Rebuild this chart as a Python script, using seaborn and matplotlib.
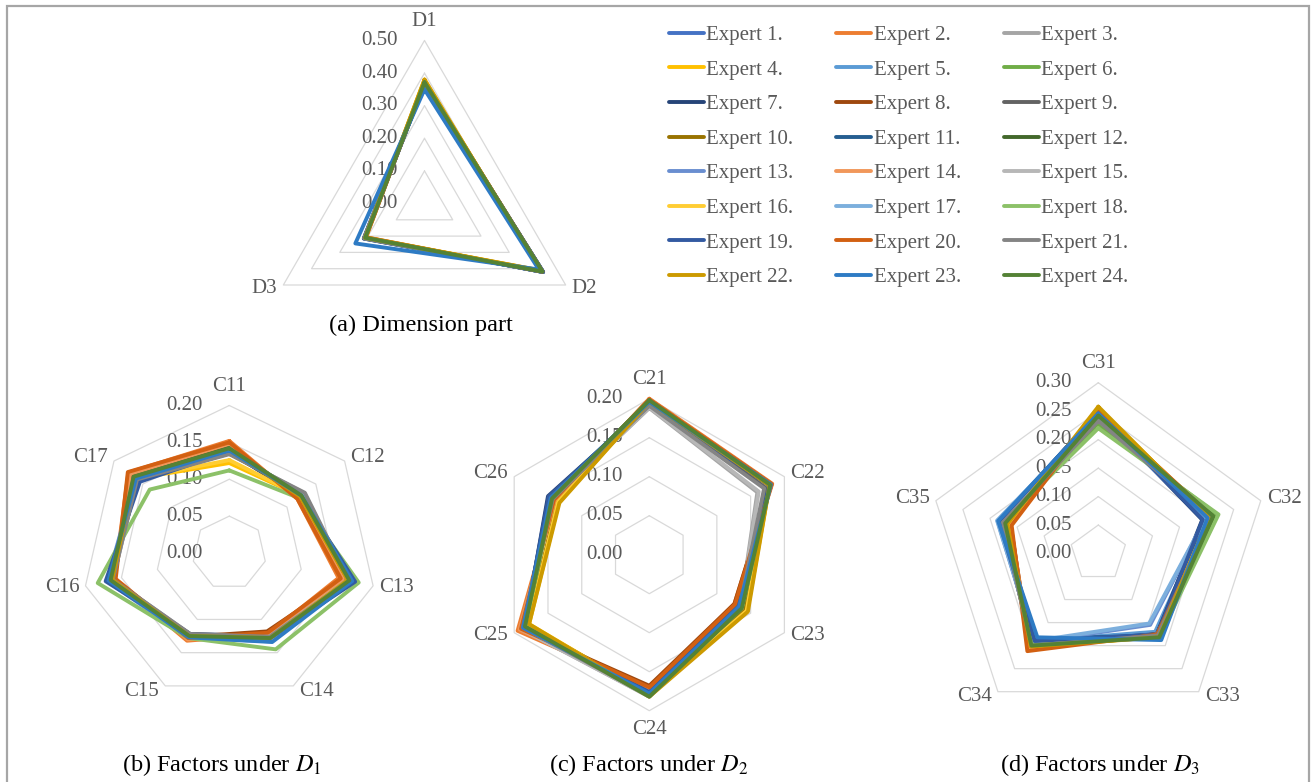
import numpy as np
import pandas as pd
import seaborn as sns
import matplotlib
matplotlib.use('Agg')
import matplotlib.pyplot as plt
from matplotlib.lines import Line2D
from matplotlib.patches import Rectangle

sns.set_theme(style="white")
plt.rcParams['font.family'] = ['Liberation Serif', 'DejaVu Sans']
plt.rcParams['mathtext.fontset'] = 'stix'

experts = ["Expert %d." % i for i in range(1, 25)]
colors = ["#4472C4", "#ED7D31", "#A5A5A5", "#FFC000", "#5B9BD5", "#70AD47",
          "#264478", "#9E480E", "#636363", "#997300", "#255E91", "#43682B",
          "#698ED0", "#F1975A", "#B7B7B7", "#FFCD33", "#7CAFDD", "#8CC168",
          "#335AA1", "#D26012", "#848484", "#CC9A00", "#2E7BC4", "#548235"]

# (a) dimension weights, one row per expert: D1, D2, D3
dim_cats = ["D1", "D2", "D3"]
dim_vals = [
    [0.370, 0.415, 0.215], [0.375, 0.418, 0.207], [0.370, 0.420, 0.210], [0.380, 0.412, 0.208],
    [0.370, 0.420, 0.210], [0.375, 0.415, 0.210], [0.365, 0.420, 0.215], [0.370, 0.418, 0.212],
    [0.372, 0.416, 0.212], [0.375, 0.414, 0.211], [0.368, 0.420, 0.212], [0.370, 0.418, 0.212],
    [0.372, 0.416, 0.212], [0.375, 0.415, 0.210], [0.370, 0.418, 0.212], [0.378, 0.412, 0.210],
    [0.370, 0.420, 0.210], [0.372, 0.416, 0.212], [0.368, 0.420, 0.212], [0.374, 0.418, 0.208],
    [0.370, 0.416, 0.214], [0.380, 0.410, 0.210], [0.350, 0.405, 0.245], [0.372, 0.418, 0.210],
]

# (b) factors under D1: C11..C17
d1_cats = ["C11", "C12", "C13", "C14", "C15", "C16", "C17"]
d1_vals = [
    [0.140, 0.125, 0.168, 0.128, 0.125, 0.165, 0.160],
    [0.152, 0.118, 0.152, 0.122, 0.132, 0.160, 0.175],
    [0.135, 0.130, 0.165, 0.125, 0.122, 0.162, 0.160],
    [0.122, 0.124, 0.168, 0.130, 0.124, 0.166, 0.162],
    [0.140, 0.126, 0.170, 0.132, 0.126, 0.168, 0.163],
    [0.142, 0.124, 0.166, 0.128, 0.124, 0.165, 0.165],
    [0.138, 0.122, 0.174, 0.125, 0.122, 0.168, 0.158],
    [0.145, 0.120, 0.160, 0.118, 0.126, 0.160, 0.170],
    [0.135, 0.128, 0.166, 0.126, 0.123, 0.163, 0.160],
    [0.142, 0.124, 0.165, 0.127, 0.124, 0.164, 0.165],
    [0.140, 0.125, 0.172, 0.130, 0.126, 0.168, 0.160],
    [0.143, 0.124, 0.166, 0.126, 0.124, 0.164, 0.166],
    [0.138, 0.127, 0.168, 0.133, 0.128, 0.170, 0.162],
    [0.148, 0.120, 0.158, 0.124, 0.130, 0.160, 0.172],
    [0.136, 0.129, 0.165, 0.126, 0.123, 0.162, 0.160],
    [0.126, 0.124, 0.168, 0.130, 0.125, 0.166, 0.162],
    [0.140, 0.126, 0.169, 0.132, 0.127, 0.167, 0.163],
    [0.112, 0.120, 0.180, 0.145, 0.128, 0.183, 0.138],
    [0.138, 0.124, 0.175, 0.128, 0.123, 0.172, 0.155],
    [0.150, 0.118, 0.155, 0.120, 0.128, 0.158, 0.176],
    [0.134, 0.131, 0.166, 0.126, 0.122, 0.162, 0.160],
    [0.140, 0.123, 0.165, 0.128, 0.125, 0.163, 0.165],
    [0.139, 0.125, 0.171, 0.134, 0.127, 0.168, 0.162],
    [0.142, 0.125, 0.167, 0.128, 0.125, 0.165, 0.166],
]

# (c) factors under D2: C21..C26
d2_cats = ["C21", "C22", "C23", "C24", "C25", "C26"]
d2_vals = [
    [0.196, 0.180, 0.132, 0.178, 0.186, 0.145],
    [0.200, 0.182, 0.126, 0.172, 0.195, 0.140],
    [0.188, 0.160, 0.135, 0.182, 0.190, 0.142],
    [0.196, 0.178, 0.145, 0.180, 0.178, 0.134],
    [0.197, 0.180, 0.134, 0.178, 0.185, 0.144],
    [0.198, 0.179, 0.136, 0.180, 0.184, 0.144],
    [0.192, 0.178, 0.130, 0.176, 0.184, 0.150],
    [0.198, 0.181, 0.126, 0.168, 0.190, 0.142],
    [0.192, 0.172, 0.134, 0.180, 0.186, 0.143],
    [0.196, 0.178, 0.142, 0.178, 0.180, 0.136],
    [0.195, 0.180, 0.132, 0.178, 0.186, 0.148],
    [0.198, 0.179, 0.136, 0.180, 0.184, 0.144],
    [0.194, 0.179, 0.133, 0.178, 0.186, 0.147],
    [0.199, 0.181, 0.128, 0.174, 0.192, 0.140],
    [0.189, 0.162, 0.135, 0.182, 0.190, 0.142],
    [0.196, 0.178, 0.144, 0.180, 0.179, 0.135],
    [0.197, 0.180, 0.134, 0.178, 0.186, 0.144],
    [0.198, 0.179, 0.137, 0.180, 0.184, 0.143],
    [0.192, 0.178, 0.130, 0.176, 0.185, 0.149],
    [0.199, 0.181, 0.127, 0.170, 0.190, 0.141],
    [0.191, 0.170, 0.134, 0.181, 0.187, 0.143],
    [0.196, 0.178, 0.146, 0.182, 0.178, 0.133],
    [0.196, 0.180, 0.133, 0.178, 0.187, 0.146],
    [0.198, 0.179, 0.137, 0.182, 0.184, 0.144],
]

# (d) factors under D3: C31..C35
d3_cats = ["C31", "C32", "C33", "C34", "C35"]
d3_vals = [
    [0.245, 0.205, 0.175, 0.195, 0.180],
    [0.250, 0.210, 0.178, 0.205, 0.162],
    [0.235, 0.208, 0.176, 0.198, 0.178],
    [0.255, 0.205, 0.182, 0.200, 0.168],
    [0.245, 0.200, 0.170, 0.190, 0.185],
    [0.225, 0.220, 0.180, 0.198, 0.176],
    [0.248, 0.192, 0.175, 0.195, 0.182],
    [0.250, 0.208, 0.175, 0.205, 0.162],
    [0.235, 0.206, 0.178, 0.200, 0.176],
    [0.255, 0.204, 0.180, 0.200, 0.168],
    [0.248, 0.194, 0.178, 0.185, 0.183],
    [0.240, 0.212, 0.180, 0.198, 0.172],
    [0.240, 0.198, 0.155, 0.192, 0.186],
    [0.250, 0.210, 0.176, 0.205, 0.163],
    [0.236, 0.207, 0.176, 0.198, 0.178],
    [0.256, 0.205, 0.182, 0.200, 0.168],
    [0.242, 0.198, 0.152, 0.190, 0.187],
    [0.220, 0.222, 0.182, 0.198, 0.176],
    [0.248, 0.193, 0.176, 0.190, 0.183],
    [0.250, 0.210, 0.176, 0.212, 0.160],
    [0.233, 0.208, 0.178, 0.200, 0.176],
    [0.258, 0.204, 0.182, 0.202, 0.168],
    [0.246, 0.202, 0.188, 0.182, 0.185],
    [0.242, 0.212, 0.182, 0.200, 0.172],
]

GRID = "#D9D9D9"
LABEL = "#595959"
PX = 0.72  # points per pixel at dpi 100
FS = 15

fig = plt.figure(figsize=(13.11, 7.82), dpi=100)


def radar(rect, cats, rows, rmax, step):
    ax = fig.add_axes(rect, projection='polar')
    ax.set_theta_zero_location('N')
    ax.set_theta_direction(-1)
    n = len(cats)
    theta = np.linspace(0, 2 * np.pi, n, endpoint=False)
    theta_c = np.append(theta, 2 * np.pi)

    # polygon grid rings
    levels = np.arange(step, rmax + 1e-9, step)
    for v in levels:
        ax.plot(theta_c, [v] * (n + 1), color=GRID, lw=0.9, zorder=1)

    # long table for seaborn
    recs = []
    for name, vals in zip(experts, rows):
        for t, v in zip(theta_c, list(vals) + [vals[0]]):
            recs.append((name, t, v))
    df = pd.DataFrame(recs, columns=["expert", "theta", "value"])
    sns.lineplot(data=df, x="theta", y="value", hue="expert", hue_order=experts,
                 palette=colors, sort=False, estimator=None, legend=False,
                 lw=2.8, ax=ax, zorder=3)
    for ln in ax.lines:
        ln.set_clip_on(False)

    ax.set_ylim(0, rmax)
    ax.grid(False)
    ax.set_xticks([])
    ax.set_yticks([])
    ax.set_xlabel("")
    ax.set_ylabel("")
    ax.spines['polar'].set_visible(False)
    ax.set_facecolor('none')

    # value labels along the top spoke
    for v in np.append(0.0, levels):
        ax.annotate("%.2f" % v, xy=(0, v), xytext=(-27 * PX, 0), textcoords='offset points',
                    ha='right', va='center', fontsize=FS, color=LABEL, zorder=2,
                    annotation_clip=False)

    # category labels
    for t, c in zip(theta, cats):
        s, co = np.sin(t), np.cos(t)
        if abs(s) < 0.2:
            off, ha = (0, co * 19 * PX), 'center'
        else:
            off = (np.sign(s) * 6 * PX, co * 6 * PX)
            ha = 'left' if s > 0 else 'right'
        ax.annotate(c, xy=(t, rmax), xytext=off, textcoords='offset points',
                    ha=ha, va='center', fontsize=FS, color=LABEL,
                    annotation_clip=False)
    return ax


W, H = 1311, 782


def rect(cx, cy, r):
    return [(cx - r) / W, 1 - (cy + r) / H, 2 * r / W, 2 * r / H]


radar(rect(424.5, 203.5, 163), dim_cats, dim_vals, 0.5, 0.1)
radar(rect(229.3, 553, 147.5), d1_cats, d1_vals, 0.2, 0.05)
radar(rect(649.3, 554.7, 156), d2_cats, d2_vals, 0.2, 0.05)
radar(rect(1098.3, 553.5, 170.8), d3_cats, d3_vals, 0.3, 0.05)

# legend: rows read Expert 1, 2, 3 ...
order = [i for col in range(3) for i in range(col, 24, 3)]
handles = [Line2D([], [], color=colors[i], lw=2.8) for i in order]
labels = [experts[i] for i in order]
fig.legend(handles, labels, ncol=3, loc='upper left', bbox_to_anchor=(669 / W, 1 - 25.5 / H),
           frameon=False, handlelength=1.68, handletextpad=0.12, columnspacing=2.05,
           labelspacing=0.72, borderpad=0, borderaxespad=0,
           prop={'family': 'Liberation Serif', 'size': FS}, labelcolor=LABEL)

# captions
CAP = 17.5
fig.text(421 / W, 1 - 325 / H, "(a) Dimension part", ha='center', va='center', fontsize=CAP, color='black')
fig.text(222 / W, 1 - 765 / H, r"(b) Factors under $D_1$", ha='center', va='center', fontsize=CAP, color='black')
fig.text(649 / W, 1 - 765 / H, r"(c) Factors under $D_2$", ha='center', va='center', fontsize=CAP, color='black')
fig.text(1100 / W, 1 - 765 / H, r"(d) Factors under $D_3$", ha='center', va='center', fontsize=CAP, color='black')

# outer frame
fig.add_artist(Rectangle((7 / W, -0.05), (1309 - 7) / W, 1.05 - 6 / H, transform=fig.transFigure,
                         fill=False, ec="#A6A6A6", lw=1.6))

fig.savefig("out.png", dpi=100)
